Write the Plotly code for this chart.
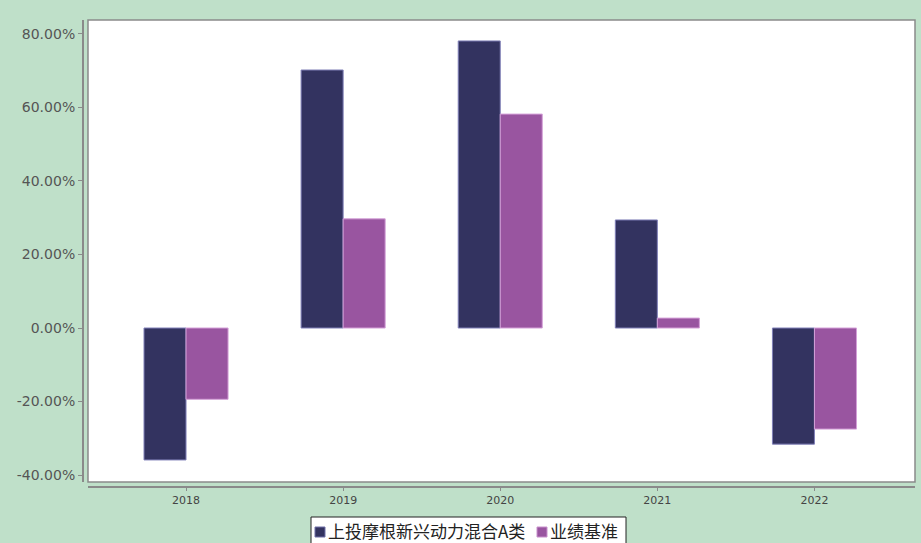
import plotly.graph_objects as go

years = ["2018", "2019", "2020", "2021", "2022"]
fund_returns = [-35.9, 70.2, 78.1, 29.4, -31.6]      # 上投摩根新兴动力混合A类, %
benchmark_returns = [-19.4, 29.7, 58.2, 2.7, -27.5]  # 业绩基准, %
y_ticks = [-40, -20, 0, 20, 40, 60, 80]

fund_name = "上投摩根新兴动力混合A类"
bench_name = "业绩基准"

W, H = 921, 543
ML, MR, MT, MB = 83, 6, 20, 56

bg = "#BFE0C9"
axis_gray = "#8A8A8A"
fund_color = "#333360"
bench_color = "#9955A0"


def px_x(px):
    return (px - ML) / (W - ML - MR)


def px_y(py):
    return (H - MB - py) / (H - MT - MB)


fig = go.Figure()
fig.add_trace(go.Bar(
    x=years, y=fund_returns, name=fund_name,
    marker=dict(color=fund_color, line=dict(color="#8080B8", width=1)),
))
fig.add_trace(go.Bar(
    x=years, y=benchmark_returns, name=bench_name,
    marker=dict(color=bench_color, line=dict(color="#D4A0D8", width=1)),
))

shapes = [dict(
    type="rect", xref="x domain", yref="y domain",
    x0=0, x1=1, y0=0, y1=1,
    line=dict(color=axis_gray, width=1.5), fillcolor="rgba(0,0,0,0)",
    layer="above",
)]

# legend box below the chart
shapes.append(dict(
    type="rect", xref="paper", yref="paper",
    x0=px_x(311), x1=px_x(626), y0=px_y(549), y1=px_y(517),
    line=dict(color="#222222", width=1), fillcolor="white",
))
annotations = []
legend_items = [(fund_name, fund_color, "#7070A8", 315), (bench_name, bench_color, "#C890CC", 537)]
for label, color, edge, x0 in legend_items:
    shapes.append(dict(
        type="rect", xref="paper", yref="paper",
        x0=px_x(x0), x1=px_x(x0 + 10), y0=px_y(537), y1=px_y(527),
        line=dict(color=edge, width=1), fillcolor=color,
    ))
    annotations.append(dict(
        xref="paper", yref="paper", x=px_x(x0 + 11), y=px_y(530.5),
        xanchor="left", yanchor="middle", showarrow=False,
        text=label,
        font=dict(family="Noto Sans CJK SC, sans-serif", size=17, color="#222222"),
    ))

fig.update_layout(
    width=W, height=H,
    paper_bgcolor=bg, plot_bgcolor="white",
    margin=dict(l=ML, r=MR, t=MT, b=MB, autoexpand=False),
    barmode="group", bargap=0.465, bargroupgap=0,
    font=dict(family="DejaVu Sans, Verdana, sans-serif", color="#555555"),
    showlegend=False,
    xaxis=dict(
        domain=[0.006, 1], anchor="free", position=0,
        range=[-0.624, 4.64],
        showline=True, linecolor=axis_gray, linewidth=2,
        ticks="outside", ticklen=3, tickcolor=axis_gray,
        tickfont=dict(size=11, color="#444444"),
        showgrid=False, zeroline=False,
    ),
    yaxis=dict(
        domain=[0.0107, 1], anchor="free", position=0,
        range=[-41.9, 83.8],
        tickvals=y_ticks, ticktext=[f"{v:.2f}%" for v in y_ticks],
        showline=True, linecolor=axis_gray, linewidth=2,
        ticks="outside", ticklen=4, tickcolor=axis_gray,
        tickfont=dict(size=14, color="#555555"),
        showgrid=False, zeroline=False,
    ),
    shapes=shapes,
    annotations=annotations,
)

fig.write_html("out.html")
